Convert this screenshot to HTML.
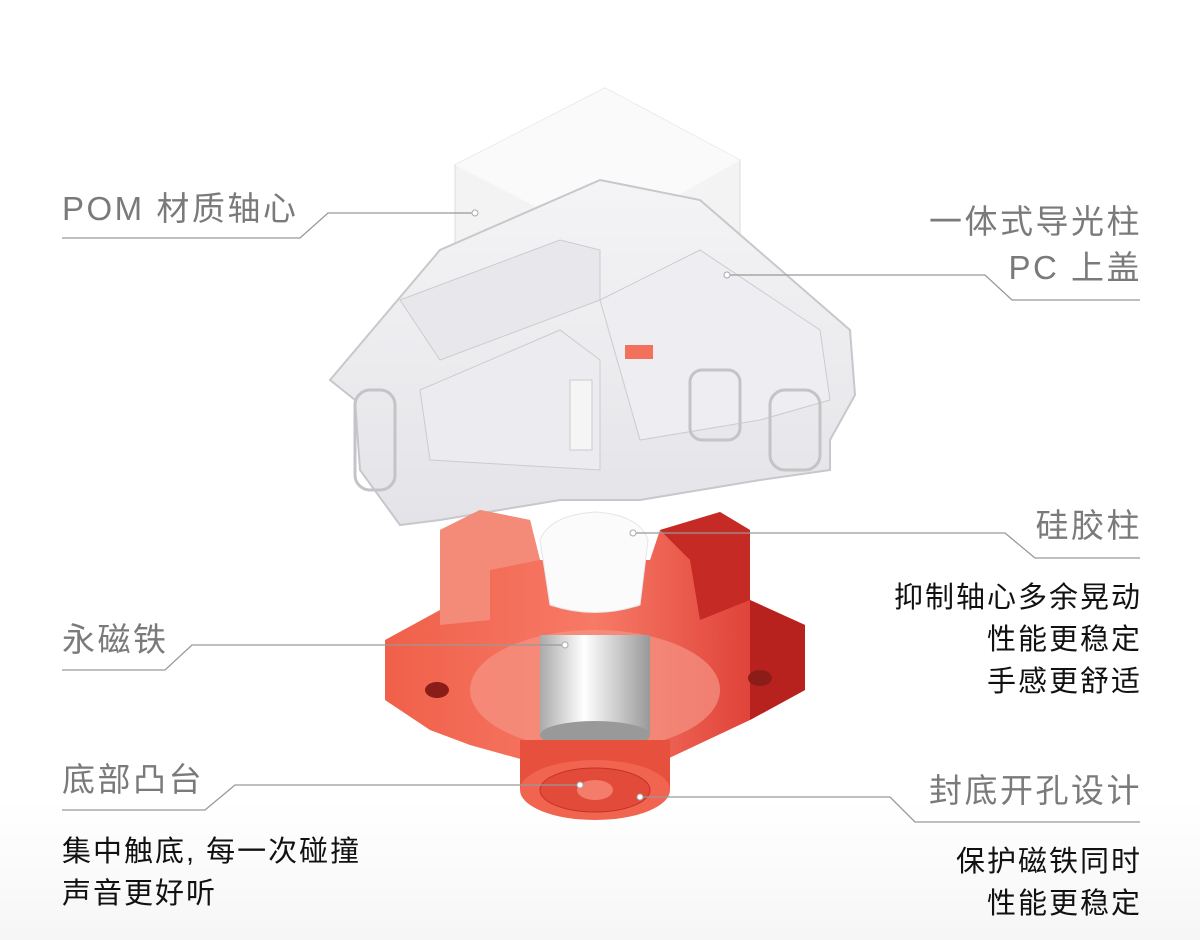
<!DOCTYPE html>
<html><head><meta charset="utf-8"><style>
html,body{margin:0;padding:0}
body{width:1200px;height:940px;overflow:hidden;position:relative;background:linear-gradient(#fff 0%,#fff 85%,#f6f6f6 100%);font-family:"Liberation Sans","Noto Sans CJK SC",sans-serif}
.g{position:absolute;color:#7a7a7a;font-size:33px;letter-spacing:2.5px;line-height:46px;white-space:nowrap}
.b{position:absolute;color:#111;font-size:29px;letter-spacing:2px;line-height:42px;white-space:nowrap}
.r{text-align:right;right:58px}
svg{position:absolute;left:0;top:0}
</style></head><body>
<svg width="1200" height="940" viewBox="0 0 1200 940">
<defs>
<linearGradient id="red" x1="0" y1="0" x2="1" y2="0"><stop offset="0" stop-color="#f0604a"/><stop offset=".5" stop-color="#f77a66"/><stop offset="1" stop-color="#d8302a"/></linearGradient>
<linearGradient id="mag" x1="0" y1="0" x2="1" y2="0"><stop offset="0" stop-color="#aaa"/><stop offset=".4" stop-color="#fff"/><stop offset="1" stop-color="#999"/></linearGradient>
<linearGradient id="clr" x1="0" y1="0" x2="0" y2="1"><stop offset="0" stop-color="#f4f4f6"/><stop offset="1" stop-color="#e4e4e8"/></linearGradient>
</defs>
<polygon points="455,165 605,88 740,160 740,260 455,260" fill="#f3f3f3" stroke="#ddd"/>
<polygon points="455,165 605,88 740,160 600,240" fill="#fafafa"/>
<polygon points="330,380 440,250 600,180 700,200 850,330 855,395 830,440 830,470 760,480 640,500 560,500 440,520 400,525 360,470 355,400" fill="url(#clr)" stroke="#c8c8cc" stroke-width="2"/>
<polygon points="400,300 560,240 600,250 600,300 440,360" fill="#e8e8ec" stroke="#ccc"/>
<polygon points="420,390 560,330 600,360 600,470 430,460" fill="#ececf0" stroke="#ccc"/>
<polygon points="600,300 700,250 820,330 830,400 760,420 640,440" fill="#eeeef2" stroke="#ccc"/>
<rect x="355" y="390" width="40" height="100" rx="15" fill="none" stroke="#c4c4c8" stroke-width="3"/>
<rect x="770" y="390" width="50" height="80" rx="15" fill="none" stroke="#c4c4c8" stroke-width="3"/>
<rect x="690" y="370" width="50" height="70" rx="12" fill="none" stroke="#c4c4c8" stroke-width="3"/>
<rect x="625" y="345" width="28" height="14" fill="#f2705c"/>
<rect x="570" y="380" width="22" height="70" fill="#f5f5f5" stroke="#ccc"/>
<polygon points="385,640 440,610 440,530 480,510 530,520 540,560 650,560 660,530 720,512 750,530 750,600 805,625 805,690 750,720 665,760 560,770 470,745 430,730 385,700" fill="url(#red)"/>
<polygon points="440,530 480,510 530,520 540,560 490,570 490,620 440,625" fill="#f48a78"/>
<polygon points="660,530 720,512 750,530 750,600 700,620 690,560" fill="#c62a24"/>
<polygon points="750,600 805,625 805,690 750,720" fill="#b8221e"/>
<ellipse cx="595" cy="690" rx="125" ry="60" fill="#f59484" opacity=".7"/>
<ellipse cx="437" cy="690" rx="12" ry="8" fill="#8a1d18"/>
<ellipse cx="760" cy="678" rx="12" ry="8" fill="#8a1d18"/>
<rect x="540" y="635" width="110" height="100" fill="url(#mag)"/>
<ellipse cx="595" cy="735" rx="55" ry="14" fill="#999"/>
<path d="M540 540 Q550 515 595 512 Q640 515 648 540 L640 605 Q595 620 550 605 Z" fill="#fbfbfb" stroke="#e5e5e5"/>
<rect x="520" y="740" width="150" height="50" fill="#e8503e"/>
<ellipse cx="595" cy="790" rx="75" ry="30" fill="#f06450"/>
<ellipse cx="595" cy="790" rx="55" ry="22" fill="#e24a3a" stroke="#c63228"/>
<ellipse cx="595" cy="790" rx="18" ry="10" fill="#f47c6a"/>
<g fill="none" stroke="#999" stroke-width="1.3">
<polyline points="62,238 300,238 328,213 475,213"/>
<polyline points="1140,300 1012,300 985,275 727,275"/>
<polyline points="1140,558 1035,558 1005,533 633,533"/>
<polyline points="62,670 165,670 192,645 565,645"/>
<polyline points="62,810 205,810 235,785 580,785"/>
<polyline points="1140,822 915,822 890,797 640,797"/>
</g>
<g fill="#fff" stroke="#aaa"><circle cx="475" cy="213" r="3"/><circle cx="727" cy="275" r="3"/><circle cx="633" cy="533" r="3"/><circle cx="565" cy="645" r="3"/><circle cx="580" cy="785" r="3"/><circle cx="640" cy="797" r="3"/></g>
</svg>
<div class="g" style="left:62px;top:186px">POM 材质轴心</div>
<div class="g r" style="top:199px">一体式导光柱</div>
<div class="g r" style="top:245px">PC 上盖</div>
<div class="g r" style="top:503px">硅胶柱</div>
<div class="b r" style="top:577px">抑制轴心多余晃动<br>性能更稳定<br>手感更舒适</div>
<div class="g" style="left:62px;top:617px">永磁铁</div>
<div class="g" style="left:62px;top:757px">底部凸台</div>
<div class="b" style="left:62px;top:831px">集中触底, 每一次碰撞<br>声音更好听</div>
<div class="g r" style="top:768px">封底开孔设计</div>
<div class="b r" style="top:841px">保护磁铁同时<br>性能更稳定</div>
</body></html>
